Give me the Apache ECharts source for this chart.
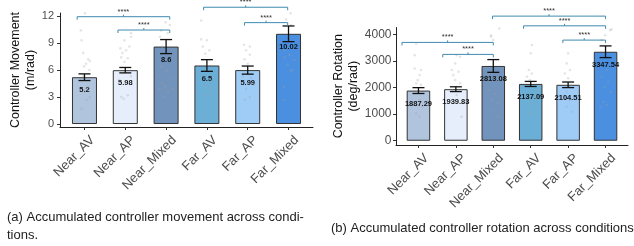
<!DOCTYPE html>
<html>
<head>
<meta charset="utf-8">
<script src="https://cdn.jsdelivr.net/npm/echarts@6/dist/echarts.min.js"></script>
<style>
html, body { margin: 0; padding: 0; background: #fff; }
#main { width: 634px; height: 246px; }
</style>
</head>
<body>
<div id="main"></div>
<script>
var categories = ['Near_AV', 'Near_AP', 'Near_Mixed', 'Far_AV', 'Far_AP', 'Far_Mixed'];
var barColors = ['#b0c4de', '#e6eefc', '#7293bb', '#6baed6', '#9fcbf7', '#4a8fe0'];

// (a) controller movement
var moveMean = [5.2, 5.98, 8.6, 6.5, 5.99, 10.02];
var moveErr = [0.37, 0.3, 0.78, 0.65, 0.45, 0.87];
var moveTicks = [0, 3, 6, 9, 12];
// significance brackets: [from x, to x, y]
var moveSig = [[-0.18, 2.09, 11.92], [0.82, 2.09, 10.44], [2.92, 4.98, 12.97], [3.92, 4.98, 11.26]];
// jittered participants: [category index + jitter, value]
var movePoints = [
  [0.01, 12.3], [-0.09, 10.4], [-0.07, 9.3], [-0.03, 7.9], [0.09, 7.2], [0.13, 7.0], [0.04, 6.7], [-0.01, 6.4],
  [0.12, 6.0], [-0.03, 5.3], [-0.11, 4.9], [0.09, 4.1], [0.01, 3.6], [0.13, 3.0], [0.05, 2.7], [-0.07, 1.7],
  [1.14, 10.1], [1.14, 9.7], [0.98, 9.3], [1.1, 8.6], [0.88, 8.4], [1.02, 8.2], [0.93, 7.9], [0.9, 7.4],
  [1.06, 7.3], [0.98, 6.9], [1.14, 5.3], [0.85, 4.9], [1.02, 4.5], [0.9, 3.0], [1.06, 3.2], [0.96, 2.8],
  [1.99, 11.3], [2.09, 11.0], [1.88, 10.4], [2.04, 10.1], [1.85, 9.7], [1.9, 8.6], [2.09, 7.7], [1.88, 6.4],
  [2.0, 5.9], [1.85, 5.3], [2.12, 4.9], [1.9, 4.5], [1.98, 4.2], [2.16, 3.9], [1.84, 3.9], [2.06, 3.6], [1.96, 3.0],
  [2.86, 11.5], [2.86, 9.4], [3.0, 9.3], [2.9, 8.6], [3.06, 8.2], [2.96, 7.8], [2.9, 7.1], [3.06, 5.9],
  [2.94, 5.3], [3.1, 4.9], [2.98, 4.4], [3.04, 3.9], [3.1, 3.3], [2.98, 3.2], [2.94, 1.0],
  [3.91, 8.8], [4.05, 8.6], [3.96, 8.2], [4.05, 7.7], [3.92, 7.2], [4.0, 6.7], [3.88, 5.3], [4.08, 5.1],
  [4.0, 4.5], [4.16, 4.4], [3.96, 3.9], [4.05, 3.0], [3.93, 2.7],
  [5.05, 12.3], [5.11, 12.4], [4.94, 11.6], [5.06, 11.0], [4.9, 8.2], [5.02, 7.7], [4.9, 7.4], [5.14, 7.1],
  [4.98, 6.6], [5.1, 6.0], [5.06, 5.9], [4.89, 4.1], [4.88, 2.7]
];

// (b) controller rotation
var rotMean = [1887.29, 1939.83, 2813.08, 2137.09, 2104.51, 3347.54];
var rotErr = [110, 90, 240, 95, 105, 220];
var rotTicks = [0, 1000, 2000, 3000, 4000];
var rotSig = [[-0.44, 2.0, 3699], [0.65, 2.0, 3248], [1.98, 5.0, 4688], [2.81, 5.0, 4323], [3.86, 5.0, 3786]];
var rotPoints = [
  [-0.06, 3660], [-0.1, 3220], [-0.1, 2720], [0.07, 2660], [0.03, 2470], [-0.02, 2280], [-0.06, 2160],
  [0.07, 2100], [-0.02, 1840], [0.03, 1530], [0.11, 1280], [-0.06, 1030], [0.03, 910],
  [1.02, 3220], [1.11, 3160], [0.98, 2910], [0.89, 2660], [1.07, 2600], [0.93, 2470], [0.98, 2280],
  [1.11, 2160], [0.89, 1910], [1.02, 1720], [1.15, 900],
  [2.16, 4220], [1.94, 3970], [1.94, 3910], [2.0, 3790], [1.86, 2470], [2.09, 2280], [1.9, 1910],
  [2.04, 1780], [1.94, 1530], [2.13, 1400], [2.0, 1090], [2.12, 900],
  [3.03, 3600], [3.0, 3290], [2.95, 2660], [3.03, 2530], [2.9, 2410], [2.98, 2280], [3.08, 1590],
  [2.95, 1410], [3.03, 1220], [2.98, 1030],
  [4.0, 3290], [3.96, 2910], [4.05, 2660], [3.91, 2530], [4.0, 2350], [4.09, 2100], [3.96, 1840],
  [4.05, 1530], [3.96, 1280], [4.09, 1090],
  [5.16, 4190], [5.12, 4160], [4.99, 3970], [4.9, 3790], [5.04, 2660], [4.9, 2410], [5.07, 2220],
  [4.98, 2030], [5.15, 1840], [4.94, 1470], [5.03, 1340], [4.86, 1280]
];

var FONT = "'Liberation Sans', Arial, sans-serif";
var idx = [0, 1, 2, 3, 4, 5];

function xAxisFor(grid, fs) {
  return {
    type: 'value', gridIndex: grid, min: -0.6, max: 5.6,
    axisLine: { show: true, onZero: false, lineStyle: { color: '#222', width: 1 } },
    axisTick: { show: true, customValues: idx, length: 3, lineStyle: { color: '#333' } },
    axisLabel: {
      customValues: idx, rotate: 45, margin: 3, fontSize: fs, color: '#4d4d4d', fontFamily: FONT,
      verticalAlign: 'top', lineHeight: fs + 10, showMinLabel: true, showMaxLabel: true, hideOverlap: false,
      formatter: function (v) { return categories[Math.round(v)]; }
    },
    splitLine: { show: false }
  };
}

function yAxisFor(grid, min, max, ticks, name, gap, fs, margin) {
  return {
    type: 'value', gridIndex: grid, min: min, max: max,
    name: name, nameLocation: 'middle', nameGap: gap,
    nameTextStyle: { fontSize: 12.5, color: '#111', lineHeight: 15, fontFamily: FONT },
    axisLine: { show: true, onZero: false, lineStyle: { color: '#222', width: 1 } },
    axisTick: { show: true, customValues: ticks, length: 3, lineStyle: { color: '#333' } },
    axisLabel: { customValues: ticks, margin: margin, fontSize: fs, color: '#4d4d4d', fontFamily: FONT,
      showMinLabel: true, showMaxLabel: true,
      formatter: function (v) { return String(v); } },
    splitLine: { show: false }
  };
}

function barSeries(grid, means, width) {
  return {
    type: 'bar', xAxisIndex: grid, yAxisIndex: grid, barWidth: width,
    data: means.map(function (v, i) {
      return { value: [i, v], itemStyle: { color: barColors[i] } };
    }),
    itemStyle: { borderColor: '#333', borderWidth: 1 },
    label: {
      show: true, position: 'insideTop', distance: 9, fontSize: 7.5, fontWeight: 'bold',
      color: '#111', fontFamily: FONT,
      formatter: function (p) { return String(p.value[1]); }
    },
    z: 2
  };
}

function pointSeries(grid, pts) {
  return {
    type: 'scatter', xAxisIndex: grid, yAxisIndex: grid, data: pts,
    symbolSize: 2.6, itemStyle: { color: 'rgba(160,160,160,0.35)' }, silent: true, z: 3
  };
}

function errorSeries(grid, means, errs) {
  return {
    type: 'custom', xAxisIndex: grid, yAxisIndex: grid, z: 4,
    data: means.map(function (v, i) { return [i, v - errs[i], v + errs[i]]; }),
    encode: { x: 0, y: [1, 2] },
    renderItem: function (params, api) {
      var lo = api.coord([api.value(0), api.value(1)]);
      var hi = api.coord([api.value(0), api.value(2)]);
      var w = 6, st = { stroke: '#111', lineWidth: 1.3 };
      return {
        type: 'group', children: [
          { type: 'line', shape: { x1: lo[0], y1: lo[1], x2: hi[0], y2: hi[1] }, style: st },
          { type: 'line', shape: { x1: lo[0] - w, y1: lo[1], x2: lo[0] + w, y2: lo[1] }, style: st },
          { type: 'line', shape: { x1: hi[0] - w, y1: hi[1], x2: hi[0] + w, y2: hi[1] }, style: st }
        ]
      };
    }
  };
}

function sigSeries(grid, sig) {
  return {
    type: 'custom', xAxisIndex: grid, yAxisIndex: grid, z: 5, clip: false,
    data: sig,
    encode: { x: [0, 1], y: 2 },
    renderItem: function (params, api) {
      var a = api.coord([api.value(0), api.value(2)]);
      var b = api.coord([api.value(1), api.value(2)]);
      var mid = (a[0] + b[0]) / 2, tip = 3;
      var st = { stroke: '#3f8bb0', lineWidth: 1, fill: null };
      return {
        type: 'group', children: [
          { type: 'polyline', shape: { points: [[a[0], a[1] + tip], a, b, [b[0], b[1] + tip]] }, style: st },
          { type: 'line', shape: { x1: mid, y1: a[1], x2: mid, y2: a[1] - 2 }, style: st },
          { type: 'text', x: mid, y: a[1] - 5, style: {
            text: '****', fontSize: 7.5, fill: '#333', align: 'center', verticalAlign: 'middle', fontFamily: FONT } }
        ]
      };
    }
  };
}

var chart = echarts.init(document.getElementById('main'));
chart.setOption({
  backgroundColor: '#fff',
  animation: false,
  textStyle: { fontFamily: FONT },
  grid: [
    { left: 60, top: 13, width: 253, height: 114 },
    { left: 396, top: 27.5, width: 232, height: 117.5 }
  ],
  xAxis: [xAxisFor(0, 13), xAxisFor(1, 13)],
  yAxis: [
    yAxisFor(0, -0.33, 12.33, moveTicks, 'Controller Movement\n(m/rad)', 17, 11, 6),
    yAxisFor(1, -160, 4260, rotTicks, 'Controller Rotation\n(deg/rad)', 33.5, 12, 4.5)
  ],
  series: [
    barSeries(0, moveMean, 25), pointSeries(0, movePoints), errorSeries(0, moveMean, moveErr), sigSeries(0, moveSig),
    barSeries(1, rotMean, 23.5), pointSeries(1, rotPoints), errorSeries(1, rotMean, rotErr), sigSeries(1, rotSig)
  ],
  graphic: [
    { type: 'text', left: 7, top: 208, style: {
      text: '(a) Accumulated controller movement across condi-\ntions.',
      fontSize: 13, lineHeight: 18.3, fill: '#222', fontFamily: FONT } },
    { type: 'text', left: 331, top: 219.5, style: {
      text: '(b) Accumulated controller rotation across conditions',
      fontSize: 13, lineHeight: 18.3, fill: '#222', fontFamily: FONT } }
  ]
});
</script>
</body>
</html>
